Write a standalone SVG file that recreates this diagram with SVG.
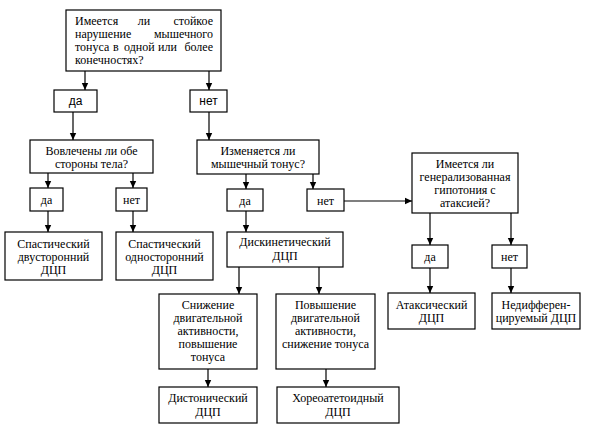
<svg xmlns="http://www.w3.org/2000/svg" width="600" height="432" viewBox="0 0 600 432">
<defs>
<marker id="a" markerUnits="userSpaceOnUse" markerWidth="8" markerHeight="8" refX="7" refY="4" orient="auto">
<path d="M0,0.8 L7,4 L0,7.2 Z" fill="#000"/>
</marker>
</defs>
<rect width="600" height="432" fill="#fff"/>
<g id="conn" stroke="#000" stroke-width="1.2">
<line x1="85" y1="71" x2="85" y2="90" marker-end="url(#a)"/>
<line x1="209" y1="71" x2="209" y2="90" marker-end="url(#a)"/>
<line x1="73" y1="112" x2="73" y2="140" marker-end="url(#a)"/>
<line x1="209" y1="112" x2="209" y2="140" marker-end="url(#a)"/>
<line x1="48" y1="173" x2="48" y2="188" marker-end="url(#a)"/>
<line x1="133" y1="173" x2="133" y2="188" marker-end="url(#a)"/>
<line x1="48" y1="211" x2="48" y2="232" marker-end="url(#a)"/>
<line x1="133" y1="211" x2="133" y2="232" marker-end="url(#a)"/>
<line x1="246" y1="174" x2="246" y2="189" marker-end="url(#a)"/>
<line x1="313" y1="174" x2="313" y2="189" marker-end="url(#a)"/>
<line x1="246" y1="211" x2="246" y2="232" marker-end="url(#a)"/>
<line x1="344" y1="201" x2="412" y2="201" marker-end="url(#a)"/>
<line x1="239" y1="267" x2="239" y2="294" marker-end="url(#a)"/>
<line x1="319" y1="267" x2="319" y2="294" marker-end="url(#a)"/>
<line x1="208" y1="369" x2="208" y2="387" marker-end="url(#a)"/>
<line x1="326" y1="369" x2="326" y2="387" marker-end="url(#a)"/>
<line x1="430" y1="213" x2="430" y2="245" marker-end="url(#a)"/>
<line x1="511" y1="213" x2="511" y2="245" marker-end="url(#a)"/>
<line x1="430" y1="268" x2="430" y2="293" marker-end="url(#a)"/>
<line x1="511" y1="268" x2="511" y2="293" marker-end="url(#a)"/>
</g>
<g id="q1">
<rect x="66" y="10" width="155" height="61" fill="#fff" stroke="#000" stroke-width="1.2"/>
<text x="75" y="25" font-family="Liberation Serif, serif" font-size="12">Имеется</text><text x="144" y="25" text-anchor="middle" font-family="Liberation Serif, serif" font-size="12">ли</text><text x="213" y="25" text-anchor="end" font-family="Liberation Serif, serif" font-size="12">стойкое</text>
<text x="75" y="38" font-family="Liberation Serif, serif" font-size="12">нарушение</text><text x="213" y="38" text-anchor="end" font-family="Liberation Serif, serif" font-size="12">мышечного</text>
<text x="75" y="51" font-family="Liberation Serif, serif" font-size="12">тонуса</text><text x="113" y="51" font-family="Liberation Serif, serif" font-size="12">в</text><text x="124" y="51" font-family="Liberation Serif, serif" font-size="12">одной</text><text x="158" y="51" font-family="Liberation Serif, serif" font-size="12">или</text><text x="213" y="51" text-anchor="end" font-family="Liberation Serif, serif" font-size="12">более</text>
<text x="75" y="64" font-family="Liberation Serif, serif" font-size="12">конечностях?</text>
</g>
<g id="yes1"><rect x="54" y="90" width="43" height="22" fill="#fff" stroke="#000" stroke-width="1.2"/><text x="75.5" y="105" text-anchor="middle" font-family="Liberation Sans, sans-serif" font-size="12">да</text></g>
<g id="no1"><rect x="190" y="90" width="37" height="22" fill="#fff" stroke="#000" stroke-width="1.2"/><text x="208.5" y="105" text-anchor="middle" font-family="Liberation Sans, sans-serif" font-size="12">нет</text></g>
<g id="q2" text-anchor="middle"><rect x="30" y="140" width="123" height="33" fill="#fff" stroke="#000" stroke-width="1.2"/><text x="91.5" y="155" font-family="Liberation Serif, serif" font-size="12">Вовлечены ли обе</text><text x="91.5" y="168" font-family="Liberation Serif, serif" font-size="12">стороны тела?</text></g>
<g id="yes2" text-anchor="middle"><rect x="30" y="188" width="33" height="23" fill="#fff" stroke="#000" stroke-width="1.2"/><text x="46.5" y="204" font-family="Liberation Serif, serif" font-size="12">да</text></g>
<g id="no2" text-anchor="middle"><rect x="116" y="188" width="31" height="23" fill="#fff" stroke="#000" stroke-width="1.2"/><text x="131.5" y="204" font-family="Liberation Serif, serif" font-size="12">нет</text></g>
<g id="spb" text-anchor="middle"><rect x="5" y="232" width="97" height="48" fill="#fff" stroke="#000" stroke-width="1.2"/><text x="53.5" y="248" font-family="Liberation Serif, serif" font-size="12">Спастический</text><text x="53.5" y="261" font-family="Liberation Serif, serif" font-size="12">двусторонний</text><text x="53.5" y="274" font-family="Liberation Serif, serif" font-size="12">ДЦП</text></g>
<g id="spo" text-anchor="middle"><rect x="116" y="232" width="97" height="48" fill="#fff" stroke="#000" stroke-width="1.2"/><text x="164.5" y="248" font-family="Liberation Serif, serif" font-size="12">Спастический</text><text x="164.5" y="261" font-family="Liberation Serif, serif" font-size="12">односторонний</text><text x="164.5" y="274" font-family="Liberation Serif, serif" font-size="12">ДЦП</text></g>
<g id="q3" text-anchor="middle"><rect x="197" y="140" width="122" height="34" fill="#fff" stroke="#000" stroke-width="1.2"/><text x="258" y="155" font-family="Liberation Serif, serif" font-size="12">Изменяется ли</text><text x="258" y="168" font-family="Liberation Serif, serif" font-size="12">мышечный тонус?</text></g>
<g id="yes3" text-anchor="middle"><rect x="227" y="189" width="36" height="22" fill="#fff" stroke="#000" stroke-width="1.2"/><text x="245" y="205" font-family="Liberation Serif, serif" font-size="12">да</text></g>
<g id="no3" text-anchor="middle"><rect x="307" y="189" width="37" height="22" fill="#fff" stroke="#000" stroke-width="1.2"/><text x="325.5" y="205" font-family="Liberation Serif, serif" font-size="12">нет</text></g>
<g id="dys" text-anchor="middle"><rect x="227" y="232" width="116" height="35" fill="#fff" stroke="#000" stroke-width="1.2"/><text x="285" y="246" font-family="Liberation Serif, serif" font-size="12">Дискинетический</text><text x="285" y="260" font-family="Liberation Serif, serif" font-size="12">ДЦП</text></g>
<g id="low" text-anchor="middle"><rect x="159" y="294" width="98" height="75" fill="#fff" stroke="#000" stroke-width="1.2"/><text x="208" y="309" font-family="Liberation Serif, serif" font-size="12">Снижение</text><text x="208" y="322" font-family="Liberation Serif, serif" font-size="12">двигательной</text><text x="208" y="335" font-family="Liberation Serif, serif" font-size="12">активности,</text><text x="208" y="348" font-family="Liberation Serif, serif" font-size="12">повышение</text><text x="208" y="361" font-family="Liberation Serif, serif" font-size="12">тонуса</text></g>
<g id="high" text-anchor="middle"><rect x="276" y="294" width="99" height="75" fill="#fff" stroke="#000" stroke-width="1.2"/><text x="325.5" y="309" font-family="Liberation Serif, serif" font-size="12">Повышение</text><text x="325.5" y="322" font-family="Liberation Serif, serif" font-size="12">двигательной</text><text x="325.5" y="335" font-family="Liberation Serif, serif" font-size="12">активности,</text><text x="325.5" y="348" font-family="Liberation Serif, serif" font-size="12">снижение тонуса</text></g>
<g id="dyst" text-anchor="middle"><rect x="159" y="387" width="98" height="36" fill="#fff" stroke="#000" stroke-width="1.2"/><text x="208" y="402" font-family="Liberation Serif, serif" font-size="12">Дистонический</text><text x="208" y="416" font-family="Liberation Serif, serif" font-size="12">ДЦП</text></g>
<g id="chor" text-anchor="middle"><rect x="277" y="387" width="122" height="36" fill="#fff" stroke="#000" stroke-width="1.2"/><text x="338" y="402" font-family="Liberation Serif, serif" font-size="12">Хореоатетоидный</text><text x="338" y="416" font-family="Liberation Serif, serif" font-size="12">ДЦП</text></g>
<g id="q4" text-anchor="middle"><rect x="412" y="153" width="106" height="60" fill="#fff" stroke="#000" stroke-width="1.2"/><text x="465" y="168" font-family="Liberation Serif, serif" font-size="12">Имеется ли</text><text x="465" y="181" font-family="Liberation Serif, serif" font-size="12">генерализованная</text><text x="465" y="194" font-family="Liberation Serif, serif" font-size="12">гипотония с</text><text x="465" y="207" font-family="Liberation Serif, serif" font-size="12">атаксией?</text></g>
<g id="yes4" text-anchor="middle"><rect x="412" y="245" width="36" height="23" fill="#fff" stroke="#000" stroke-width="1.2"/><text x="430" y="261" font-family="Liberation Serif, serif" font-size="12">да</text></g>
<g id="no4" text-anchor="middle"><rect x="492" y="245" width="35" height="23" fill="#fff" stroke="#000" stroke-width="1.2"/><text x="509.5" y="261" font-family="Liberation Serif, serif" font-size="12">нет</text></g>
<g id="atax" text-anchor="middle"><rect x="388" y="293" width="87" height="36" fill="#fff" stroke="#000" stroke-width="1.2"/><text x="431.5" y="309" font-family="Liberation Serif, serif" font-size="12">Атаксический</text><text x="431.5" y="322" font-family="Liberation Serif, serif" font-size="12">ДЦП</text></g>
<g id="undiff" text-anchor="middle"><rect x="492" y="293" width="88" height="36" fill="#fff" stroke="#000" stroke-width="1.2"/><text x="536" y="309" font-family="Liberation Serif, serif" font-size="12">Недифферен-</text><text x="536" y="322" font-family="Liberation Serif, serif" font-size="12">цируемый ДЦП</text></g>
</svg>
